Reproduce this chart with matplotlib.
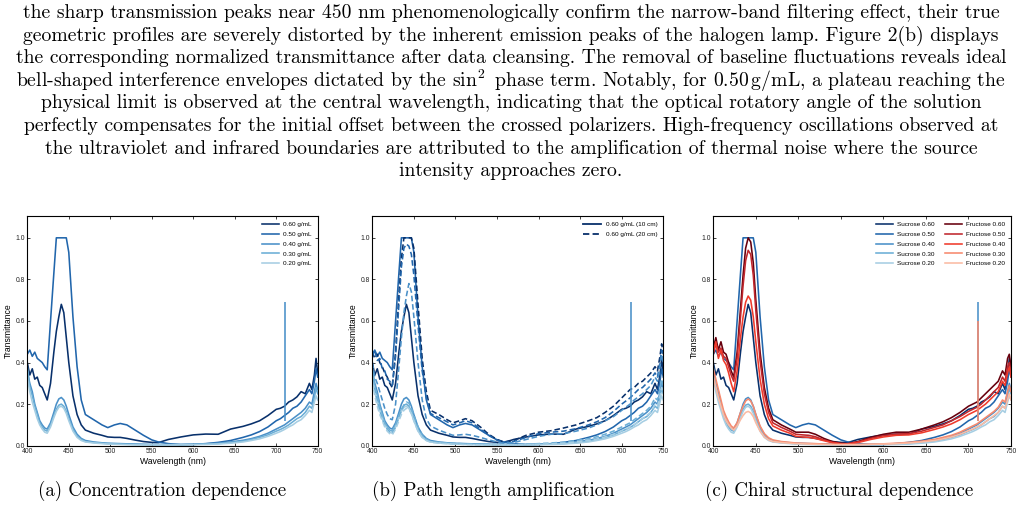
import matplotlib
matplotlib.use("Agg")
import matplotlib.pyplot as plt
from matplotlib.lines import Line2D
import numpy as np

plt.rcParams['mathtext.fontset'] = 'cm'
plt.rcParams['font.family'] = ['Liberation Sans', 'DejaVu Sans']

# ---------------- data ----------------
wl = [400, 403, 406, 409, 412, 415, 418, 421, 424, 428, 432, 435, 438, 441, 444, 447, 450,
      455, 460, 465, 470, 480, 490, 497, 505, 512, 520, 530, 540, 550, 558, 570, 585, 600,
      615, 630, 645, 660, 670, 680, 690, 700, 705, 710, 715, 720, 725, 730, 735, 740, 743,
      746, 748, 750]

# sucrose, 10 cm path
s060 = [0.40, 0.34, 0.37, 0.32, 0.33, 0.29, 0.28, 0.25, 0.22, 0.30, 0.45, 0.55, 0.62, 0.68, 0.64, 0.52, 0.40,
        0.24, 0.15, 0.10, 0.075, 0.06, 0.05, 0.042, 0.04, 0.04, 0.035, 0.027, 0.02, 0.016, 0.015, 0.03, 0.042, 0.052,
        0.056, 0.055, 0.08, 0.093, 0.105, 0.12, 0.145, 0.175, 0.18, 0.19, 0.21, 0.22, 0.235, 0.26, 0.25, 0.30, 0.27,
        0.34, 0.42, 0.35]
s050 = [0.44, 0.46, 0.43, 0.45, 0.42, 0.41, 0.40, 0.38, 0.365, 0.60, 0.83, 1.0, 1.0, 1.0, 1.0, 1.0, 0.93,
        0.62, 0.38, 0.22, 0.15, 0.125, 0.10, 0.087, 0.10, 0.107, 0.10, 0.075, 0.05, 0.028, 0.018, 0.01, 0.005, 0.006,
        0.01, 0.016, 0.025, 0.04, 0.052, 0.068, 0.09, 0.12, 0.13, 0.145, 0.16, 0.18, 0.19, 0.21, 0.24, 0.27, 0.25,
        0.31, 0.37, 0.33]
s040 = [0.36, 0.30, 0.26, 0.20, 0.16, 0.12, 0.10, 0.085, 0.08, 0.11, 0.16, 0.20, 0.225, 0.232, 0.22, 0.19, 0.15,
        0.09, 0.055, 0.035, 0.025, 0.018, 0.014, 0.012, 0.011, 0.01, 0.009, 0.008, 0.007, 0.006, 0.006, 0.006, 0.006, 0.007,
        0.009, 0.012, 0.018, 0.026, 0.034, 0.045, 0.06, 0.08, 0.09, 0.10, 0.115, 0.13, 0.145, 0.16, 0.18, 0.21, 0.20,
        0.26, 0.30, 0.27]
s030 = [0.38, 0.28, 0.24, 0.19, 0.15, 0.11, 0.09, 0.075, 0.07, 0.10, 0.145, 0.175, 0.195, 0.20, 0.19, 0.165, 0.13,
        0.08, 0.045, 0.03, 0.02, 0.015, 0.012, 0.01, 0.009, 0.008, 0.007, 0.006, 0.005, 0.005, 0.005, 0.005, 0.005, 0.006,
        0.008, 0.01, 0.015, 0.022, 0.03, 0.04, 0.052, 0.07, 0.078, 0.088, 0.10, 0.115, 0.13, 0.14, 0.16, 0.19, 0.18,
        0.23, 0.28, 0.25]
s020 = [0.33, 0.26, 0.21, 0.17, 0.13, 0.10, 0.08, 0.065, 0.06, 0.09, 0.135, 0.165, 0.185, 0.19, 0.18, 0.155, 0.12,
        0.07, 0.04, 0.025, 0.018, 0.013, 0.01, 0.008, 0.007, 0.006, 0.005, 0.004, 0.004, 0.004, 0.004, 0.004, 0.004, 0.005,
        0.006, 0.008, 0.012, 0.018, 0.025, 0.033, 0.045, 0.06, 0.068, 0.078, 0.09, 0.10, 0.115, 0.125, 0.145, 0.17, 0.16,
        0.21, 0.24, 0.22]

# sucrose, 20 cm path
d060 = [0.45, 0.42, 0.44, 0.40, 0.38, 0.35, 0.33, 0.30, 0.28, 0.45, 0.72, 0.90, 1.0, 1.0, 1.0, 1.0, 0.95,
        0.68, 0.42, 0.26, 0.17, 0.15, 0.125, 0.11, 0.12, 0.13, 0.12, 0.09, 0.055, 0.03, 0.018, 0.025, 0.05, 0.065,
        0.072, 0.085, 0.10, 0.12, 0.135, 0.16, 0.19, 0.23, 0.25, 0.27, 0.28, 0.30, 0.31, 0.33, 0.35, 0.38, 0.36,
        0.43, 0.49, 0.44]
d050 = [0.43, 0.46, 0.41, 0.42, 0.37, 0.36, 0.32, 0.31, 0.29, 0.43, 0.68, 0.86, 0.95, 0.97, 0.96, 0.92, 0.82,
        0.58, 0.36, 0.23, 0.155, 0.135, 0.115, 0.10, 0.11, 0.12, 0.11, 0.08, 0.05, 0.027, 0.016, 0.02, 0.04, 0.058,
        0.065, 0.07, 0.082, 0.10, 0.115, 0.135, 0.165, 0.20, 0.215, 0.23, 0.25, 0.27, 0.28, 0.30, 0.32, 0.35, 0.33,
        0.40, 0.46, 0.41]
d040 = [0.40, 0.33, 0.30, 0.26, 0.22, 0.18, 0.15, 0.13, 0.125, 0.20, 0.38, 0.52, 0.64, 0.72, 0.78, 0.74, 0.62,
        0.40, 0.22, 0.13, 0.095, 0.075, 0.06, 0.05, 0.052, 0.055, 0.05, 0.04, 0.028, 0.018, 0.012, 0.015, 0.03, 0.045,
        0.055, 0.058, 0.07, 0.085, 0.10, 0.12, 0.14, 0.17, 0.185, 0.20, 0.22, 0.235, 0.25, 0.27, 0.29, 0.33, 0.31,
        0.38, 0.44, 0.40]
d030 = [0.36, 0.27, 0.22, 0.17, 0.13, 0.10, 0.08, 0.065, 0.06, 0.09, 0.14, 0.17, 0.195, 0.21, 0.205, 0.18, 0.145,
        0.09, 0.05, 0.03, 0.02, 0.016, 0.013, 0.011, 0.01, 0.009, 0.008, 0.007, 0.006, 0.006, 0.006, 0.006, 0.007, 0.01,
        0.013, 0.017, 0.025, 0.034, 0.043, 0.055, 0.07, 0.09, 0.10, 0.11, 0.125, 0.14, 0.155, 0.17, 0.19, 0.23, 0.22,
        0.27, 0.32, 0.29]
d020 = [0.31, 0.24, 0.19, 0.15, 0.12, 0.09, 0.07, 0.058, 0.052, 0.08, 0.12, 0.15, 0.17, 0.18, 0.175, 0.155, 0.12,
        0.07, 0.04, 0.025, 0.017, 0.012, 0.01, 0.008, 0.007, 0.006, 0.005, 0.004, 0.004, 0.004, 0.004, 0.004, 0.005, 0.007,
        0.009, 0.012, 0.018, 0.025, 0.032, 0.042, 0.055, 0.072, 0.08, 0.09, 0.10, 0.115, 0.13, 0.145, 0.16, 0.2, 0.19,
        0.24, 0.28, 0.25]

# fructose, 10 cm path
f060 = [0.47, 0.52, 0.46, 0.50, 0.45, 0.44, 0.40, 0.36, 0.33, 0.45, 0.66, 0.82, 0.95, 1.0, 0.98, 0.88, 0.70,
        0.45, 0.28, 0.18, 0.125, 0.10, 0.08, 0.065, 0.065, 0.065, 0.055, 0.035, 0.02, 0.012, 0.01, 0.02, 0.04, 0.055,
        0.065, 0.065, 0.08, 0.10, 0.115, 0.135, 0.16, 0.19, 0.20, 0.21, 0.23, 0.25, 0.27, 0.29, 0.31, 0.36, 0.34,
        0.42, 0.44, 0.38]
f050 = [0.44, 0.49, 0.45, 0.47, 0.43, 0.42, 0.38, 0.34, 0.31, 0.42, 0.62, 0.77, 0.89, 0.94, 0.92, 0.82, 0.65,
        0.41, 0.25, 0.16, 0.11, 0.088, 0.07, 0.055, 0.052, 0.05, 0.043, 0.028, 0.016, 0.01, 0.009, 0.018, 0.035, 0.048,
        0.056, 0.058, 0.07, 0.088, 0.10, 0.12, 0.14, 0.165, 0.175, 0.185, 0.20, 0.22, 0.24, 0.26, 0.28, 0.33, 0.31,
        0.38, 0.40, 0.35]
f040 = [0.45, 0.50, 0.42, 0.46, 0.41, 0.39, 0.35, 0.30, 0.26, 0.36, 0.52, 0.62, 0.69, 0.72, 0.70, 0.62, 0.50,
        0.32, 0.20, 0.13, 0.095, 0.075, 0.06, 0.045, 0.042, 0.04, 0.035, 0.024, 0.014, 0.009, 0.008, 0.015, 0.03, 0.042,
        0.05, 0.052, 0.062, 0.078, 0.09, 0.105, 0.125, 0.15, 0.16, 0.17, 0.185, 0.20, 0.22, 0.24, 0.26, 0.31, 0.29,
        0.35, 0.38, 0.33]
f030 = [0.37, 0.32, 0.27, 0.22, 0.17, 0.14, 0.115, 0.095, 0.085, 0.11, 0.16, 0.19, 0.215, 0.225, 0.215, 0.19, 0.15,
        0.095, 0.058, 0.038, 0.028, 0.02, 0.016, 0.013, 0.012, 0.011, 0.01, 0.008, 0.007, 0.006, 0.006, 0.006, 0.007, 0.009,
        0.012, 0.016, 0.022, 0.03, 0.04, 0.05, 0.065, 0.085, 0.095, 0.105, 0.12, 0.135, 0.15, 0.165, 0.185, 0.22, 0.21,
        0.26, 0.29, 0.26]
f020 = [0.33, 0.28, 0.23, 0.19, 0.15, 0.12, 0.10, 0.085, 0.075, 0.095, 0.125, 0.145, 0.16, 0.165, 0.158, 0.14, 0.11,
        0.07, 0.042, 0.028, 0.02, 0.015, 0.012, 0.01, 0.009, 0.008, 0.007, 0.006, 0.005, 0.005, 0.005, 0.005, 0.006, 0.008,
        0.01, 0.013, 0.018, 0.025, 0.033, 0.042, 0.055, 0.072, 0.08, 0.09, 0.10, 0.115, 0.13, 0.145, 0.16, 0.19, 0.18,
        0.22, 0.25, 0.22]

conc_labels = ['0.60', '0.50', '0.40', '0.30', '0.20']
sucrose_10 = [s060, s050, s040, s030, s020]
sucrose_20 = [d060, d050, d040, d030, d020]
fructose_10 = [f060, f050, f040, f030, f020]

# lamp emission artefact near 711 nm
spike_wl = 711
spike_base = 0.12
spike_top_blue = 0.69
spike_top_red = 0.60

blues = ['#08306b', '#2166ac', '#4a90c8', '#6baed6', '#a6cee3']
reds = ['#67000d', '#c0272d', '#ef3b2c', '#f7896d', '#fbbba3']

body_lines = [
    "the sharp transmission peaks near 450 nm phenomenologically confirm the narrow-band filtering effect, their true",
    "geometric profiles are severely distorted by the inherent emission peaks of the halogen lamp. Figure 2(b) displays",
    "the corresponding normalized transmittance after data cleansing. The removal of baseline fluctuations reveals ideal",
    r"bell-shaped interference envelopes dictated by the $\sin^2$ phase term. Notably, for $0.50\,\mathrm{g/mL}$, a plateau reaching the",
    "physical limit is observed at the central wavelength, indicating that the optical rotatory angle of the solution",
    "perfectly compensates for the initial offset between the crossed polarizers. High-frequency oscillations observed at",
    "the ultraviolet and infrared boundaries are attributed to the amplification of thermal noise where the source",
    "intensity approaches zero.",
]
captions = ['(a) Concentration dependence', '(b) Path length amplification', '(c) Chiral structural dependence']

# ---------------- figure ----------------
W, H = 1022, 507
fig = plt.figure(figsize=(W / 100, H / 100), dpi=100)

for i, line in enumerate(body_lines):
    fig.text(0.5, 1 - (13 + 22.6 * i) / H, line, ha='center', va='center',
             fontsize=14.2, family='cmr10')

axes_px = [(27.3, 290.4), (372.3, 291.0), (713.3, 297.7)]
caption_x = [162, 493, 839]
axs = []
for (left, width), cx, cap in zip(axes_px, caption_x, captions):
    ax = fig.add_axes([left / W, (H - 445.7) / H, width / W, 229.7 / H])
    axs.append(ax)
    fig.text(cx / W, 1 - 491 / H, cap, ha='center', va='center', fontsize=13.6, family='cmr10')


def style(ax):
    ax.set_xlim(400, 750)
    ax.set_ylim(0, 1.105)
    ax.set_xticks(np.arange(400, 751, 50))
    ax.set_yticks(np.arange(0, 1.01, 0.2))
    ax.tick_params(direction='in', length=2.2, width=0.6, labelsize=4.9, pad=1.5,
                   top=True, right=True, colors='#222222')
    for sp in ax.spines.values():
        sp.set_linewidth(0.8)
    ax.set_xlabel('Wavelength (nm)', fontsize=6.2, labelpad=1.5)
    ax.set_ylabel('Transmittance', fontsize=6.2, labelpad=2)


lw = 1.15
dash = (0, (3.5, 1.8))
# (a)
ax = axs[0]
for ys, c, lab in zip(sucrose_10, blues, conc_labels):
    ax.plot(wl, ys, color=c, lw=lw, label=f'{lab} g/mL')
ax.vlines(spike_wl, spike_base, spike_top_blue, color=blues[2], lw=lw)
style(ax)
ax.legend(loc='upper right', fontsize=4.6, frameon=False, handlelength=2.6,
          handletextpad=0.7, labelspacing=0.68, borderaxespad=0.5)

# (b)
ax = axs[1]
for ys, c in zip(sucrose_10, blues):
    ax.plot(wl, ys, color=c, lw=lw)
for ys, c in zip(sucrose_20, blues):
    ax.plot(wl, ys, color=c, lw=lw, ls=dash)
ax.vlines(spike_wl, spike_base, spike_top_blue, color=blues[2], lw=lw)
style(ax)
hs = [Line2D([], [], color=blues[0], lw=1.3),
      Line2D([], [], color=blues[0], lw=1.3, ls=dash)]
ax.legend(hs, ['0.60 g/mL (10 cm)', '0.60 g/mL (20 cm)'], loc='upper right', fontsize=4.6,
          frameon=False, handlelength=2.8, handletextpad=0.7, labelspacing=0.68, borderaxespad=0.5)

# (c)
ax = axs[2]
hs, labs = [], []
for ys, c, lab in zip(sucrose_10, blues, conc_labels):
    h, = ax.plot(wl, ys, color=c, lw=lw)
    hs.append(h)
    labs.append(f'Sucrose {lab}')
ax.vlines(spike_wl, spike_base, spike_top_blue, color=blues[2], lw=lw)
for ys, c, lab in zip(fructose_10, reds, conc_labels):
    h, = ax.plot(wl, ys, color=c, lw=lw)
    hs.append(h)
    labs.append(f'Fructose {lab}')
ax.vlines(spike_wl, spike_base, spike_top_red, color=reds[3], lw=lw)
style(ax)
ax.legend(hs, labs, loc='upper right', ncol=2, fontsize=4.6, frameon=False, handlelength=2.6,
          handletextpad=0.7, labelspacing=0.68, columnspacing=1.6, borderaxespad=0.5)

fig.savefig('out.png', dpi=100)
